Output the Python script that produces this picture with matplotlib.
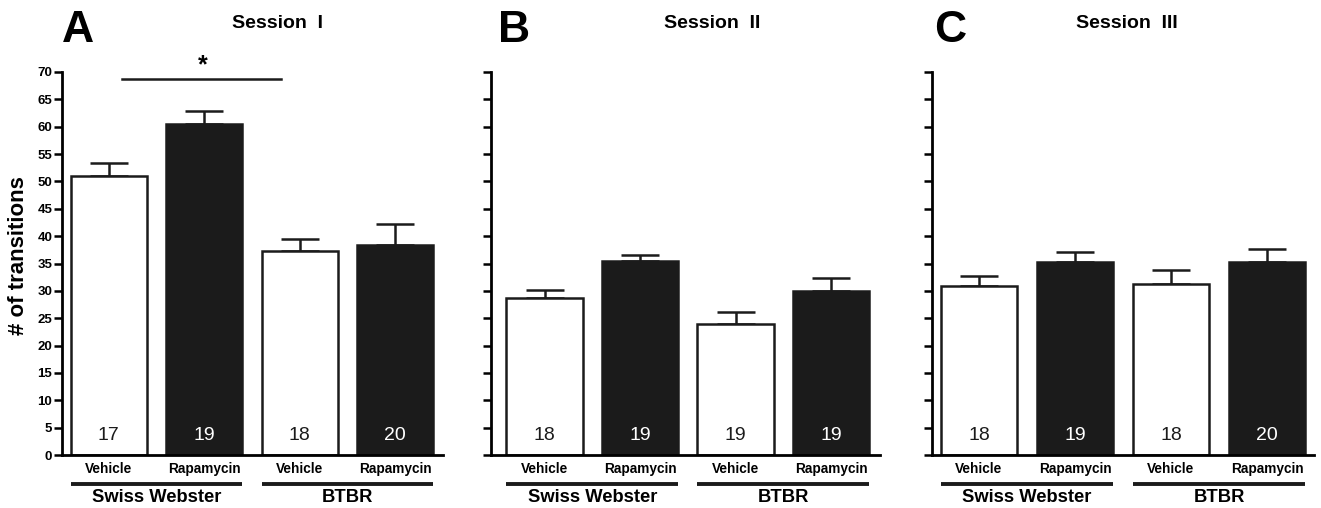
import matplotlib
matplotlib.use("Agg")
import matplotlib.pyplot as plt

plt.rcParams['font.family'] = ['Liberation Sans', 'DejaVu Sans']

categories = ["Vehicle", "Rapamycin", "Vehicle", "Rapamycin"]
groups = ["Swiss Webster", "BTBR"]
sessions = ["Session  I", "Session  II", "Session  III"]
letters = ["A", "B", "C"]

means_s1 = [51.0, 60.5, 37.2, 38.3]
sem_s1 = [2.3, 2.3, 2.3, 4.0]
n_s1 = [17, 19, 18, 20]

means_s2 = [28.7, 35.4, 23.9, 30.0]
sem_s2 = [1.5, 1.2, 2.2, 2.3]
n_s2 = [18, 19, 19, 19]

means_s3 = [30.9, 35.3, 31.3, 35.3]
sem_s3 = [1.9, 1.8, 2.5, 2.3]
n_s3 = [18, 19, 18, 20]

yticks = list(range(0, 71, 5))

W, H = 1321, 508
fig = plt.figure(figsize=(W / 100, H / 100), dpi=100)

black = '#1b1b1b'
colors = ['white', black, 'white', black]
txtcol = ['#1b1b1b', 'white', '#1b1b1b', 'white']

# axes pixel extents: (left, right, xlim_left, xlim_right)
layout = [(62, 443, -0.49, 3.50), (491, 880, -0.56, 3.51), (932, 1314, -0.49, 3.49)]
top_px, bot_px = 72, 455
span = bot_px - top_px

data = [(means_s1, sem_s1, n_s1), (means_s2, sem_s2, n_s2), (means_s3, sem_s3, n_s3)]

axes = []
for i, ((l, r, xl, xr), (m, s, n)) in enumerate(zip(layout, data)):
    ax = fig.add_axes([l / W, 1 - bot_px / H, (r - l) / W, span / H])
    axes.append(ax)
    x = list(range(len(categories)))
    ax.bar(x, m, width=0.8, color=colors, edgecolor=black, linewidth=1.8, zorder=2)
    ax.errorbar(x, m, yerr=[[0] * 4, s], fmt='none', ecolor=black, elinewidth=1.8,
                capsize=14, capthick=1.8, zorder=1)
    for xi, ni, tc in zip(x, n, txtcol):
        ax.text(xi, 3.6, str(ni), ha='center', va='center', fontsize=14, color=tc, zorder=3)
    ax.set_xlim(xl, xr)
    ax.set_ylim(0, 70)
    ax.set_yticks(yticks)
    if i == 0:
        ax.set_yticklabels([str(t) for t in yticks], fontsize=9.5, fontweight='bold')
    else:
        ax.set_yticklabels([])
    ax.tick_params(axis='y', direction='out', length=6, width=1.8, pad=1)
    ax.set_xticks([])
    for sp in ['top', 'right']:
        ax.spines[sp].set_visible(False)
    ax.spines['left'].set_linewidth(2.0)
    ax.spines['bottom'].set_linewidth(2.0)

    tr = ax.get_xaxis_transform()
    for xi, c in zip(x, categories):
        ax.text(xi, (bot_px - 469) / span, c, transform=tr, ha='center', va='center',
                fontsize=9.8, fontweight='bold')
    for g, (a, b) in zip(groups, [(0, 1), (2, 3)]):
        yl = (bot_px - 484) / span
        ax.plot([a - 0.4, b + 0.4], [yl, yl], transform=tr, color=black, lw=2.8,
                clip_on=False, solid_capstyle='butt')
        ax.text((a + b) / 2, (bot_px - 498) / span, g, transform=tr,
                ha='center', va='center', fontsize=13.2, fontweight='bold')

fig.text(19 / W, 1 - 256 / H, "# of transitions", rotation=90, ha='center', va='center',
         fontsize=16, fontweight='bold')

# Panel letters and session titles
letter_x = [78, 514, 950]
title_x = [277, 712, 1127]
for lx, tx, L, S in zip(letter_x, title_x, letters, sessions):
    fig.text(lx / W, 1 - 30 / H, L, ha='center', va='center', fontsize=32, fontweight='bold')
    fig.text(tx / W, 1 - 23 / H, S, ha='center', va='center', fontsize=14, fontweight='bold')

# significance bar in panel A
axA = axes[0]
axA.plot([0.14, 1.80], [68.7, 68.7], color=black, lw=1.8, clip_on=False)
axA.text(0.98, 69.0, "*", ha='center', va='bottom', fontsize=18, fontweight='bold', clip_on=False)

fig.savefig("out.png", dpi=100, facecolor='white')
